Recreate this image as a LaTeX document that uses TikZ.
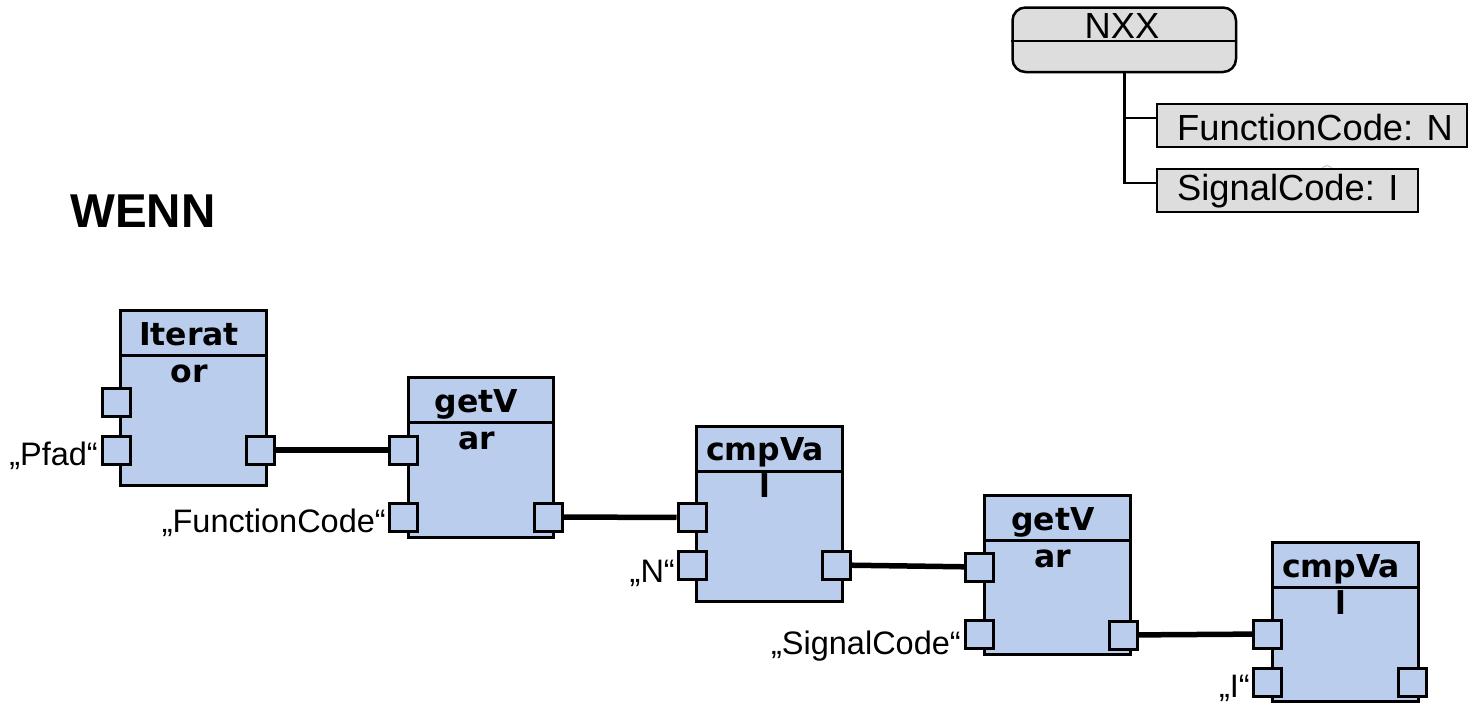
\documentclass[tikz,border=0pt]{standalone}
\usepackage{fontspec}
\setmainfont{Liberation Sans}
\newfontfamily\dvsans{DejaVu Sans}
\definecolor{blockblue}{RGB}{187,205,237}
\definecolor{boxgray}{RGB}{221,221,221}
\begin{document}
\begin{tikzpicture}[x=1pt,y=-1pt,
  block/.style={draw=black, fill=blockblue, line width=3pt, rectangle, inner sep=0pt, anchor=north west},
  port/.style={draw=black, fill=blockblue, line width=3pt, rectangle, inner sep=0pt, minimum size=28pt},
  divider/.style={line width=3pt},
  title/.style={font=\dvsans\bfseries\fontsize{31.5}{37}\selectfont, anchor=base, inner sep=0pt},
  lbl/.style={font=\fontsize{32.5}{38}\selectfont, anchor=base east, inner sep=0pt},
  conn/.style={line width=5.5pt, draw=black},
  graybox/.style={draw=black, fill=boxgray, line width=2pt, rectangle, inner sep=0pt, anchor=north west, minimum height=43pt},
  boxtext/.style={font=\fontsize{36.3}{40}\selectfont, inner sep=0pt},
  tree/.style={line width=2.5pt, draw=black}]
\useasboundingbox (0,0) rectangle (1468,705);

% title
\node[anchor=base west, font=\bfseries\fontsize{47.5}{50}\selectfont, inner sep=0pt] (wenn) at (70,227) {WENN};

% NXX structure
\node[draw=black, line width=2.5pt, rounded corners=13pt, fill=boxgray, minimum width=223.5pt, minimum height=64.5pt, inner sep=0pt, anchor=north west] (nxx) at (1011.25,6.25) {};
\draw[line width=2.5pt] ([yshift=-34.75pt]nxx.north west) -- ([yshift=-34.75pt]nxx.north east);
\node[boxtext, anchor=base] (nxxT) at (1122,38) {NXX};

\draw[gray!45, line width=1pt] (1327,171) circle[radius=5.5];
\node[graybox, minimum width=310pt] (fc) at (1156,103) {};
\node[graybox, minimum width=261pt] (sc) at (1156,168) {};
\node[boxtext, anchor=base west] (fcT) at (1177,140) {FunctionCode: N};
\node[boxtext, anchor=base west] (scT) at (1177,200) {SignalCode: I};
\draw[tree] (nxx.south) |- ([yshift=7.5pt]fc.west);
\draw[tree] (nxx.south) |- ([yshift=7.5pt]sc.west);

% blocks
\node[block, minimum width=146pt, minimum height=175pt] (it) at (118.5,308.5) {};
\node[block, minimum width=145pt, minimum height=160pt] (gv1) at (406.5,375.5) {};
\node[block, minimum width=146pt, minimum height=175pt] (cv1) at (694.5,424.5) {};
\node[block, minimum width=146pt, minimum height=159pt] (gv2) at (982.5,493.5) {};
\node[block, minimum width=146pt, minimum height=159pt] (cv2) at (1270.5,540.5) {};

\foreach \b in {it,gv1,cv1,gv2,cv2}{
  \draw[divider] ([yshift=-46.5pt]\b.north west) -- ([yshift=-46.5pt]\b.north east);
}

% block titles
\node[title] (itT1) at (189,345) {Iterat};
\node[title] (itT2) at (189,382) {or};
\node[title] (gv1T1) at (476.5,412) {getV};
\node[title] (gv1T2) at (476.5,449) {ar};
\node[title] (cv1T1) at (765,460) {cmpVa};
\node[title] (cv1T2) at (765,497) {l};
\node[title] (gv2T1) at (1053,530) {getV};
\node[title] (gv2T2) at (1053,567) {ar};
\node[title] (cv2T1) at (1341,577) {cmpVa};
\node[title] (cv2T2) at (1341,614) {l};

% ports
\node[port] (itL1) at (116.5,402) {};
\node[port] (itL2) at (116.5,450) {};
\node[port] (itR) at (260,450) {};
\node[port] (gv1L1) at (403.5,450) {};
\node[port] (gv1L2) at (403.5,517) {};
\node[port] (gv1R) at (548,517) {};
\node[port] (cv1L1) at (692,517.5) {};
\node[port] (cv1L2) at (692,565) {};
\node[port] (cv1R) at (836,565) {};
\node[port] (gv2L1) at (979.5,567) {};
\node[port] (gv2L2) at (979.5,634.5) {};
\node[port] (gv2R) at (1123.5,635) {};
\node[port] (cv2L1) at (1267.5,634) {};
\node[port] (cv2L2) at (1267.5,682) {};
\node[port] (cv2R) at (1412,682) {};

% connectors
\draw[conn] (itR) -- (gv1L1);
\draw[conn] (gv1R) -- (cv1L1);
\draw[conn] (cv1R) -- (gv2L1);
\draw[conn] (gv2R) -- (cv2L1);

% labels
\node[lbl] (lPfad) at (98,465) {„Pfad“};
\node[lbl] (lFC) at (386,532) {„FunctionCode“};
\node[lbl] (lN) at (675,582) {„N“};
\node[lbl] (lSC) at (961,654) {„SignalCode“};
\node[lbl] (lI) at (1250,697) {„I“};
\end{tikzpicture}
\end{document}
